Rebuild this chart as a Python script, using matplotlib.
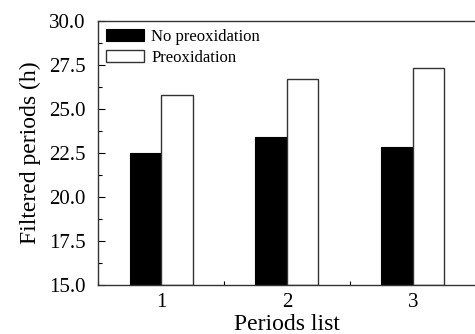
import matplotlib
matplotlib.use("Agg")
import matplotlib.pyplot as plt
import numpy as np
from matplotlib.ticker import MultipleLocator

categories = [1, 2, 3]
no_preox = [22.52, 23.43, 22.82]
preox = [25.8, 26.7, 27.32]
series_labels = ["No preoxidation", "Preoxidation"]

plt.rcParams['font.family'] = ['Liberation Serif', 'DejaVu Serif']

fig = plt.figure(figsize=(4.75, 3.34), dpi=100)
ax = fig.add_axes([98/475, 1-285/334, 378/475, 264/334])

x = np.array(categories, dtype=float)
w = 0.25
ax.bar(x - w/2, np.array(no_preox) - 15, w, bottom=15, color='black', edgecolor='black',
       linewidth=0.8, label=series_labels[0])
ax.bar(x + w/2, np.array(preox) - 15, w, bottom=15, color='white', edgecolor='#333333',
       linewidth=1.0, label=series_labels[1])

ax.set_xlim(0.5, 3.5)
ax.set_ylim(15, 30)
ax.set_xticks(categories)
ax.xaxis.set_minor_locator(MultipleLocator(0.5))
ax.yaxis.set_major_locator(MultipleLocator(2.5))
ax.yaxis.set_minor_locator(MultipleLocator(1.25))
ax.yaxis.set_major_formatter(matplotlib.ticker.FormatStrFormatter('%.1f'))
ax.tick_params(which='both', direction='in', labelsize=15, width=0.8)
ax.tick_params(which='major', length=5)
ax.tick_params(which='minor', length=3)
ax.tick_params(axis='y', which='major', pad=9)
ax.tick_params(axis='x', which='major', length=0, pad=6)
ax.spines['right'].set_visible(False)
for s in ['left', 'top', 'bottom']:
    ax.spines[s].set_linewidth(1.0)
    ax.spines[s].set_color('#333333')

ax.set_xlabel("Periods list", fontsize=17, labelpad=1)
ax.set_ylabel("Filtered periods (h)", fontsize=17, labelpad=6)

ax.legend(loc='upper left', frameon=False, fontsize=12, handlelength=2.3, handleheight=0.8,
          borderaxespad=0.25, handletextpad=0.45, labelspacing=0.3, borderpad=0.2)

fig.savefig("out.png", dpi=100)
